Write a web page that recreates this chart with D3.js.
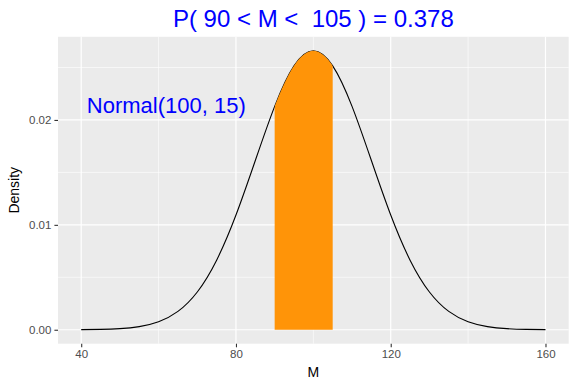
<!DOCTYPE html>
<html>
<head>
<meta charset="utf-8">
<script src="https://cdn.jsdelivr.net/npm/d3@7"></script>
<style>
  html, body { margin: 0; padding: 0; background: #fff; }
  svg { display: block; font-family: "Liberation Sans", Arial, Helvetica, sans-serif; }
</style>
</head>
<body>
<svg id="chart" width="576" height="384"></svg>
<script>
// density of Normal(100, 15), read every 5 units along M
const mValues = [40, 45, 50, 55, 60, 65, 70, 75, 80, 85, 90, 95, 100,
  105, 110, 115, 120, 125, 130, 135, 140, 145, 150, 155, 160];
const densityValues = [0.0000089, 0.000032, 0.000103, 0.000295, 0.00076, 0.001748,
  0.003599, 0.006632, 0.010934, 0.016131, 0.021297, 0.025159, 0.026596,
  0.025159, 0.021297, 0.016131, 0.010934, 0.006632, 0.003599, 0.001748,
  0.00076, 0.000295, 0.000103, 0.000032, 0.0000089];
const shadeRange = [90, 105];
const xTicks = [40, 80, 120, 160];
const xMinor = [60, 100, 140];
const yTicks = [0, 0.01, 0.02];
const yMinor = [0.005, 0.015, 0.025];
const titleText = "P( 90 < M <  105 ) = 0.378";
const noteText = "Normal(100, 15)";
const notePos = [62, 0.0214];

const svg = d3.select("#chart");
const panel = { left: 58, right: 568.7, top: 36.8, bottom: 343.7 };

// ggplot style 5% expansion
const xExt = d3.extent(mValues);
const xPad = (xExt[1] - xExt[0]) * 0.05;
const x = d3.scaleLinear()
  .domain([xExt[0] - xPad, xExt[1] + xPad])
  .range([panel.left, panel.right]);

const yMax = d3.max(densityValues);
const yPad = yMax * 0.05;
const y = d3.scaleLinear()
  .domain([-yPad, yMax + yPad])
  .range([panel.bottom, panel.top]);

svg.append("rect")
  .attr("x", panel.left).attr("y", panel.top)
  .attr("width", panel.right - panel.left)
  .attr("height", panel.bottom - panel.top)
  .attr("fill", "#EBEBEB");

const grid = svg.append("g").attr("stroke", "#fff");
grid.selectAll(".xm").data(xMinor).join("line")
  .attr("x1", d => x(d)).attr("x2", d => x(d))
  .attr("y1", panel.top).attr("y2", panel.bottom)
  .attr("stroke-width", 0.6);
grid.selectAll(".ym").data(yMinor).join("line")
  .attr("y1", d => y(d)).attr("y2", d => y(d))
  .attr("x1", panel.left).attr("x2", panel.right)
  .attr("stroke-width", 0.6);
grid.selectAll(".xM").data(xTicks).join("line")
  .attr("x1", d => x(d)).attr("x2", d => x(d))
  .attr("y1", panel.top).attr("y2", panel.bottom)
  .attr("stroke-width", 1.2);
grid.selectAll(".yM").data(yTicks).join("line")
  .attr("y1", d => y(d)).attr("y2", d => y(d))
  .attr("x1", panel.left).attr("x2", panel.right)
  .attr("stroke-width", 1.2);

const pts = mValues.map((m, i) => [m, densityValues[i]]);

svg.append("clipPath").attr("id", "shade")
  .append("rect")
  .attr("x", x(shadeRange[0])).attr("y", panel.top)
  .attr("width", x(shadeRange[1]) - x(shadeRange[0]))
  .attr("height", panel.bottom - panel.top);

const area = d3.area()
  .x(d => x(d[0])).y0(y(0)).y1(d => y(d[1]))
  .curve(d3.curveNatural);

const line = d3.line()
  .x(d => x(d[0])).y(d => y(d[1]))
  .curve(d3.curveNatural);

svg.append("path")
  .attr("d", line(pts))
  .attr("fill", "none")
  .attr("stroke", "#000")
  .attr("stroke-width", 1.1);

svg.append("path")
  .attr("d", area(pts))
  .attr("clip-path", "url(#shade)")
  .attr("fill", "#FF9408");

// axes
const xAxis = svg.append("g")
  .attr("transform", `translate(0,${panel.bottom})`)
  .call(d3.axisBottom(x).tickValues(xTicks).tickSize(3.6).tickPadding(3));
const yAxis = svg.append("g")
  .attr("transform", `translate(${panel.left},0)`)
  .call(d3.axisLeft(y).tickValues(yTicks).tickFormat(d3.format(".2f")).tickSize(3.6).tickPadding(3));
[xAxis, yAxis].forEach(a => {
  a.select(".domain").remove();
  a.selectAll(".tick line").attr("stroke", "#333").attr("stroke-width", 1.1);
  a.selectAll(".tick text").attr("fill", "#4D4D4D")
    .style("font-size", "11.5px").style("font-family", "Liberation Sans, Arial, sans-serif");
});

svg.append("text")
  .attr("x", (panel.left + panel.right) / 2).attr("y", 377)
  .attr("text-anchor", "middle")
  .attr("font-size", 14).attr("fill", "#000")
  .text("M");

svg.append("text")
  .attr("transform", `translate(19,${(panel.top + panel.bottom) / 2}) rotate(-90)`)
  .attr("text-anchor", "middle")
  .attr("font-size", 14).attr("fill", "#000")
  .text("Density");

svg.append("text")
  .attr("x", (panel.left + panel.right) / 2).attr("y", 27)
  .attr("text-anchor", "middle")
  .attr("font-size", 24).attr("fill", "#0000FF")
  .style("white-space", "pre")
  .attr("xml:space", "preserve")
  .text(titleText);

svg.append("text")
  .attr("x", x(notePos[0])).attr("y", y(notePos[1]) + 7.7)
  .attr("text-anchor", "middle")
  .attr("font-size", 22).attr("fill", "#0000FF")
  .text(noteText);
</script>
</body>
</html>
